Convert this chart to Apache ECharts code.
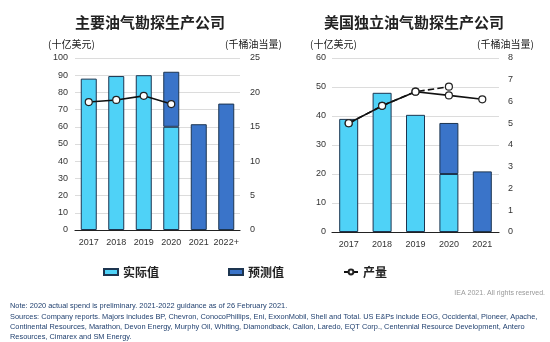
<!DOCTYPE html>
<html><head><meta charset="utf-8">
<script src="https://cdn.jsdelivr.net/npm/echarts@6/dist/echarts.min.js"></script>
<style>html,body{margin:0;padding:0;background:#fff}#c{width:550px;height:342px}</style>
</head><body><div id="c"></div>
<script>
// ---- data ----
var majorsYears = ['2017','2018','2019','2020','2021','2022+'];
var majorsActual = [88, 89.5, 90, 60, null, null];
var majorsForecast = [null, null, null, 32, 61.5, 73.5];
var majorsProduction = [18.6, 18.9, 19.5, 18.3, null, null];
var usYears = ['2017','2018','2019','2020','2021'];
var usActual = [39, 48, 40.4, 20, null];
var usForecast = [null, null, null, 17.6, 20.9];
var usProduction = [5.0, 5.8, 6.45, 6.28, 6.1];
var usProductionDashed = [5.0, 5.8, 6.45, 6.68, null];
var majorsLeftTicks = {min: 0, max: 100, interval: 10};
var majorsRightTicks = {min: 0, max: 25, interval: 5};
var usLeftTicks = {min: 0, max: 60, interval: 10};
var usRightTicks = {min: 0, max: 8, interval: 1};

var LIGHT = '#4fd2f7', DARK = '#3a74c9', EDGE = '#1d3550';
var F = '"Liberation Sans", Arial, "Noto Sans CJK SC", sans-serif';
var CJK = '"Noto Sans CJK SC", sans-serif';

function xAx(data, gi) {
  return {type: 'category', gridIndex: gi, data: data,
    axisLine: {lineStyle: {color: '#222', width: 1.2}}, axisTick: {show: false},
    axisLabel: {color: '#333', fontSize: 9, fontFamily: F, margin: 8, interval: 0}};
}
function yAx(t, gi, pos, split, margin) {
  return {type: 'value', gridIndex: gi, position: pos, min: t.min, max: t.max, interval: t.interval,
    axisLine: {show: false}, axisTick: {show: false},
    splitLine: {show: split, lineStyle: {color: '#dcdcdc', width: 1}},
    axisLabel: {color: '#333', fontSize: 9, fontFamily: F, margin: margin}};
}
var barStyle = function (c) { return {color: c, borderColor: EDGE, borderWidth: 1}; };
var lineS = function (name, xi, yi, data, dashed, z) {
  return {name: name, type: 'line', xAxisIndex: xi, yAxisIndex: yi, data: data, z: z,
    symbol: 'circle', symbolSize: 7, showSymbol: true,
    lineStyle: {color: '#111', width: 1.6, type: dashed ? 'dashed' : 'solid'},
    itemStyle: {color: '#fff', borderColor: '#222', borderWidth: 1.2}};
};
function leg(item, left) {
  return {data: [item], left: left, top: 266, padding: 0, itemWidth: 14, itemHeight: 6,
    textStyle: {fontSize: 12, fontWeight: 'bold', fontFamily: CJK, color: '#222'}};
}

var chart = echarts.init(document.getElementById('c'), null, {renderer: 'canvas'});
chart.setOption({
  animation: false,
  grid: [
    {left: 75, top: 58, width: 165, height: 172},
    {left: 332, top: 58, width: 167, height: 174}
  ],
  xAxis: [xAx(majorsYears, 0), xAx(usYears, 1)],
  yAxis: [
    yAx(majorsLeftTicks, 0, 'left', true, 7),
    yAx(majorsRightTicks, 0, 'right', false, 10),
    yAx(usLeftTicks, 1, 'left', true, 6),
    yAx(usRightTicks, 1, 'right', false, 9)
  ],
  legend: [
    leg({name: '实际值', icon: 'rect'}, 103),
    leg({name: '预测值', icon: 'rect'}, 228),
    leg({name: '产量'}, 343)
  ],
  series: [
    {name: '实际值', type: 'bar', xAxisIndex: 0, yAxisIndex: 0, stack: 'm', data: majorsActual, barWidth: 16, itemStyle: barStyle(LIGHT)},
    {name: '预测值', type: 'bar', xAxisIndex: 0, yAxisIndex: 0, stack: 'm', data: majorsForecast, barWidth: 16, itemStyle: barStyle(DARK)},
    lineS('产量', 0, 1, majorsProduction, false, 5),
    {name: '实际值', type: 'bar', xAxisIndex: 1, yAxisIndex: 2, stack: 'u', data: usActual, barWidth: 19, itemStyle: barStyle(LIGHT)},
    {name: '预测值', type: 'bar', xAxisIndex: 1, yAxisIndex: 2, stack: 'u', data: usForecast, barWidth: 19, itemStyle: barStyle(DARK)},
    lineS('产量', 1, 3, usProductionDashed, true, 5),
    lineS('产量', 1, 3, usProduction, false, 6)
  ],
  graphic: [
    {type: 'text', x: 150, y: 22, style: {text: '主要油气勘探生产公司', font: 'bold 15px ' + CJK, fill: '#222', align: 'center', verticalAlign: 'middle'}},
    {type: 'text', x: 414, y: 22, style: {text: '美国独立油气勘探生产公司', font: 'bold 15px ' + CJK, fill: '#222', align: 'center', verticalAlign: 'middle'}},
    {type: 'text', x: 48, y: 44, style: {text: '(十亿美元)', font: '10px ' + CJK, fill: '#222', verticalAlign: 'middle'}},
    {type: 'text', x: 225, y: 44, style: {text: '(千桶油当量)', font: '10px ' + CJK, fill: '#222', verticalAlign: 'middle'}},
    {type: 'text', x: 310, y: 44, style: {text: '(十亿美元)', font: '10px ' + CJK, fill: '#222', verticalAlign: 'middle'}},
    {type: 'text', x: 477, y: 44, style: {text: '(千桶油当量)', font: '10px ' + CJK, fill: '#222', verticalAlign: 'middle'}},
    {type: 'text', x: 545, y: 293, style: {text: 'IEA 2021. All rights reserved.', font: '7px ' + F, fill: '#999', align: 'right', verticalAlign: 'middle'}},
    {type: 'text', x: 10, y: 306, style: {text: 'Note: 2020 actual spend is preliminary. 2021-2022 guidance as of 26 February 2021.', font: '7.4px ' + F, fill: '#1f3f6e', verticalAlign: 'middle'}},
    {type: 'text', x: 10, y: 317, style: {text: 'Sources: Company reports. Majors includes BP, Chevron, ConocoPhillips, Eni, ExxonMobil, Shell and Total. US E&Ps include EOG, Occidental, Pioneer, Apache,', font: '7.4px ' + F, fill: '#1f3f6e', verticalAlign: 'middle'}},
    {type: 'text', x: 10, y: 327, style: {text: 'Continental Resources, Marathon, Devon Energy, Murphy Oil, Whiting, Diamondback, Callon, Laredo, EQT Corp., Centennial Resource Development, Antero', font: '7.4px ' + F, fill: '#1f3f6e', verticalAlign: 'middle'}},
    {type: 'text', x: 10, y: 337, style: {text: 'Resources, Cimarex and SM Energy.', font: '7.4px ' + F, fill: '#1f3f6e', verticalAlign: 'middle'}}
  ]
});
</script></body></html>
